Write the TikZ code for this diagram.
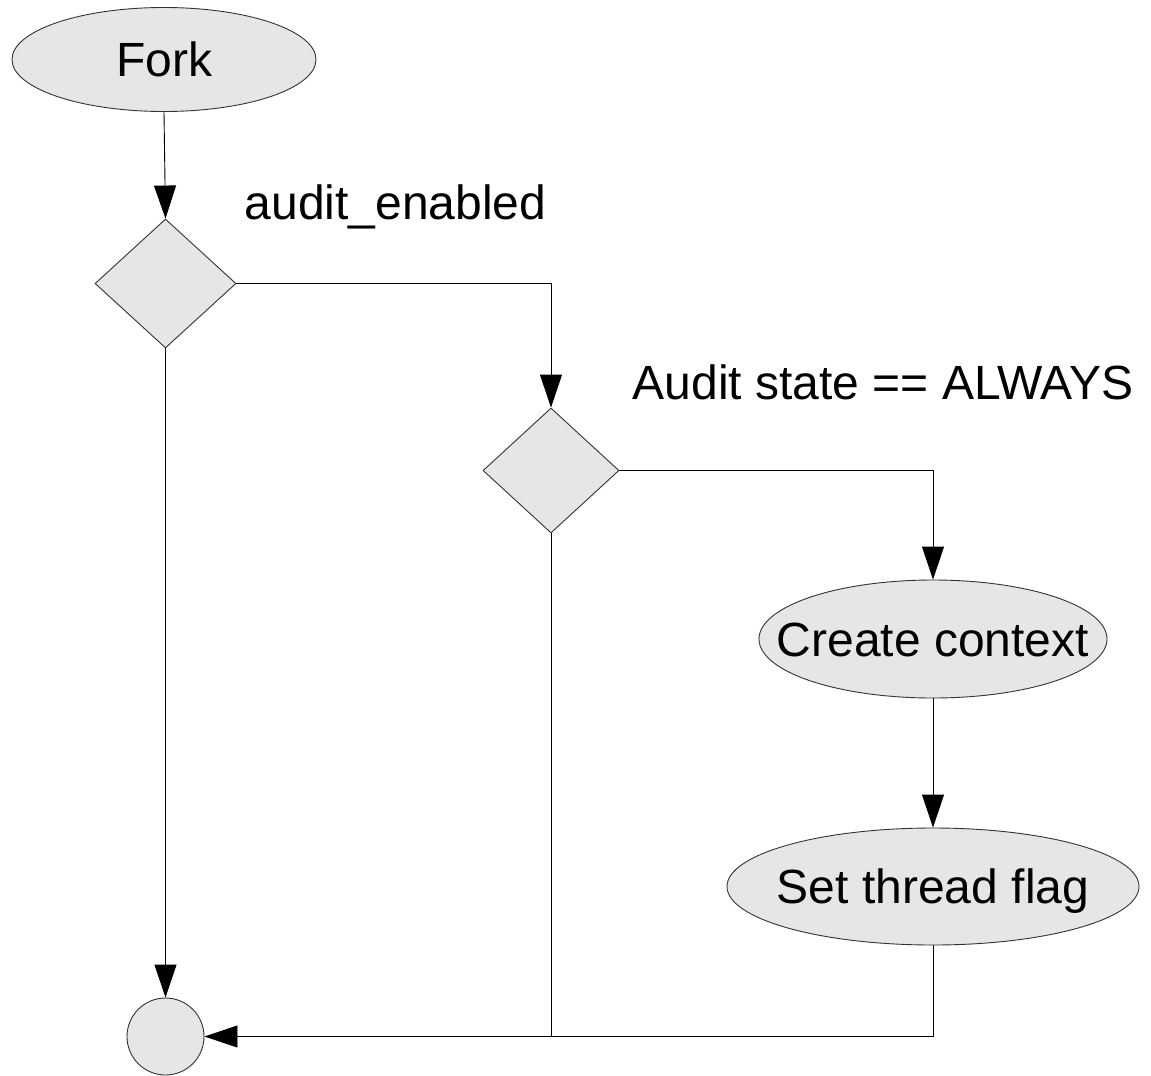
\documentclass[tikz,border=0pt]{standalone}
\usepackage{fontspec}
\setmainfont{Liberation Sans}
\usetikzlibrary{shapes.geometric,arrows.meta}
\definecolor{nodefill}{HTML}{E6E6E6}
\definecolor{nodeline}{HTML}{333333}
\tikzset{
  shapebase/.style={draw=nodeline, fill=nodefill, line width=0.9pt, inner sep=0pt},
  oval/.style={shapebase, ellipse},
  decision/.style={shapebase, diamond},
  terminal/.style={shapebase, circle, minimum size=77pt},
  txt/.style={inner sep=0pt, text height=34.4pt, text depth=0pt,
              font=\fontsize{48}{57}\selectfont},
  flow/.style={line width=0.9pt, draw=black, -{Triangle[length=33pt,width=22pt]}},
  plain/.style={line width=0.9pt, draw=black}
}
\begin{document}
\begin{tikzpicture}[x=1pt,y=-1pt]
  \useasboundingbox (0,0) rectangle (1151,1076);

  % nodes
  \node[oval, minimum width=304pt, minimum height=104pt,
        label={[txt]center:Fork}] (fork) at (164,59.5) {};
  \node[decision, minimum width=141pt, minimum height=129pt] (d1) at (165.5,283.5) {};
  \node[decision, minimum width=136pt, minimum height=125pt] (d2) at (551,470.5) {};
  \node[oval, minimum width=348pt, minimum height=118pt,
        label={[txt]center:Create context}] (ctx) at (933,639) {};
  \node[oval, minimum width=412pt, minimum height=117pt,
        label={[txt]center:Set thread flag}] (flag) at (933,886.5) {};
  \node[terminal] (done) at (165.5,1036.5) {};

  % condition labels
  \node[txt] (c1) at (395.5,202.5) {audit\_enabled};
  \node[txt] (c2) at (883,382.5) {Audit state == ALWAYS};

  % connectors
  \draw[flow] (fork.south) -- (d1.north);
  \draw[flow] (d1.east) -| (d2.north);
  \draw[flow] (d2.east) -| (ctx.north);
  \draw[flow] (ctx.south) -- (flag.north);
  \draw[flow] (d1.south) -- (done.north);
  \draw[flow] (flag.south) |- (done.east);
  \draw[plain] (d2.south) -- (d2.south |- done.east);
\end{tikzpicture}
\end{document}
